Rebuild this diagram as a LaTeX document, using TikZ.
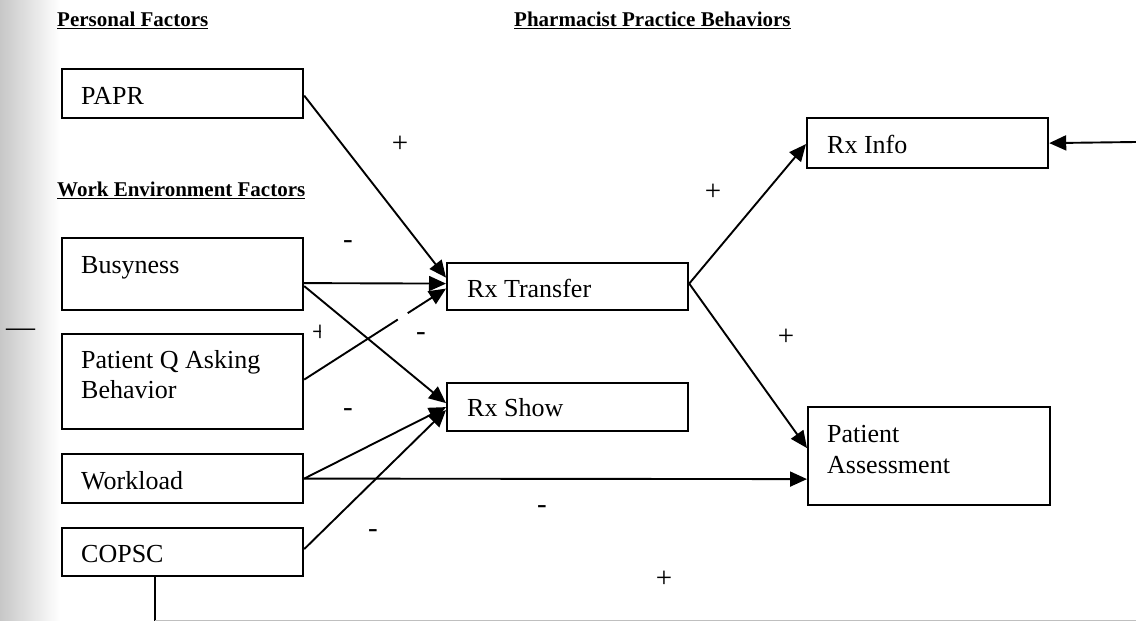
\documentclass[tikz,border=0pt]{standalone}
\usepackage{fontspec}
\setmainfont{Liberation Serif}
\usetikzlibrary{arrows.meta,calc}
\begin{document}
\begin{tikzpicture}[x=1pt,y=-1pt,
  box/.style={draw,line width=2.2pt,inner sep=0pt,anchor=north west},
  lbl/.style={anchor=base west,inner sep=0pt,font=\fontsize{26}{30}\selectfont},
  hdr/.style={anchor=base west,inner sep=0pt,font=\fontsize{21}{25}\selectfont\bfseries},
  conn/.style={line width=1.9pt,-{Triangle[length=17pt,width=15pt]}},
  plain/.style={line width=1.9pt},
  sign/.style={anchor=base,inner sep=0pt,font=\fontsize{29}{32}\selectfont}]
\useasboundingbox (0,0) rectangle (1136,621);
\fill[white] (0,0) rectangle (1136,621);
\shade[left color=black!22,right color=white] (0,0) rectangle (60,621);

% headers
\node[hdr] (h1) at (57,27) {\underline{Personal Factors}};
\node[hdr] (h2) at (57,196) {\underline{Work Environment Factors}};
\node[hdr] (h3) at (514,27) {\underline{Pharmacist Practice Behaviors}};

% boxes
\node[box,minimum width=241pt,minimum height=49pt] (papr) at (61,68) {};
\node[box,minimum width=241pt,minimum height=72pt] (busy) at (61,237) {};
\node[box,minimum width=241pt,minimum height=95pt] (pq) at (61,333) {};
\node[box,minimum width=241pt,minimum height=49pt] (work) at (61,453) {};
\node[box,minimum width=241pt,minimum height=48pt] (copsc) at (61,527) {};
\node[box,minimum width=241pt,minimum height=47pt] (rt) at (446,262) {};
\node[box,minimum width=241pt,minimum height=48pt] (rs) at (446,382) {};
\node[box,minimum width=241pt,minimum height=50pt] (ri) at (806,117) {};
\node[box,minimum width=242pt,minimum height=98pt] (pa) at (807,406) {};

% box texts
\node[lbl] (paprt) at (81,104) {PAPR};
\node[lbl] (busyt) at (81,273) {Busyness};
\node[lbl] (pqt1) at (81,368) {Patient Q Asking};
\node[lbl] (pqt2) at (81,398) {Behavior};
\node[lbl] (workt) at (81,489) {Workload};
\node[lbl] (copsct) at (81,562) {COPSC};
\node[lbl] (rtt) at (467,297) {Rx Transfer};
\node[lbl] (rst) at (467,416) {Rx Show};
\node[lbl] (rit) at (827,153) {Rx Info};
\node[lbl] (pat1) at (827,442) {Patient};
\node[lbl] (pat2) at (827,473) {Assessment};

% connectors
\draw[conn] ($(papr.east)+(0,2)$) -- ($(rt.west)+(0,-9)$);
\draw[conn] ($(busy.east)+(0,9)$) -- ($(rt.west)+(0,-3)$);
\draw[conn] ($(busy.east)+(0,12)$) -- ($(rs.west)+(0,-4)$);
\coordinate (pqs) at ($(pq.east)+(0,-2)$);
\coordinate (pqe) at ($(rt.west)+(0,2)$);
\draw[plain] (pqs) -- ($(pqs)!0.66!(pqe)$);
\draw[conn] ($(pqs)!0.73!(pqe)$) -- (pqe);
\draw[conn] ($(work.east)+(0,0)$) -- ($(rs.west)+(0,0)$);
\draw[conn] ($(work.east)+(0,0)$) -- ($(pa.west)+(0,23)$);
\draw[conn] ($(copsc.east)+(0,-3)$) -- ($(rs.west)+(0,3)$);
\draw[conn] ($(rt.east)+(0,-3)$) -- ($(ri.west)+(0,1)$);
\draw[conn] ($(rt.east)+(0,-3)$) -- ($(pa.west)+(0,-8)$);
\coordinate (rin) at (1136,142);
\draw[conn] (rin) -- (ri.east);
\coordinate (cb) at (155,621);
\draw[plain] (copsc.south -| cb) -- (cb);
\coordinate (cbr) at (1136,620);
\draw[black!25,line width=0.8pt] (cb) ++(0,-1) -- (cbr);

% signs
\node[sign] (s1) at (400,152) {+};
\node[sign] (s2) at (713,200) {+};
\node[sign] (s3) at (348,248) {-};
\node[sign] (s4) at (421,340) {-};
\node[sign] (s5) at (348,416) {-};
\node[sign] (s6) at (786,345) {+};
\node[sign] (s7) at (373,537) {-};
\node[sign] (s8) at (542,513) {-};
\node[sign] (s9) at (664,587) {+};
\begin{scope}
\clip (300,320) rectangle (320,350);
\node[sign] (s10) at (320,341) {+};
\end{scope}
\node[sign] (dash) at (20.5,336) {—};
\end{tikzpicture}
\end{document}
